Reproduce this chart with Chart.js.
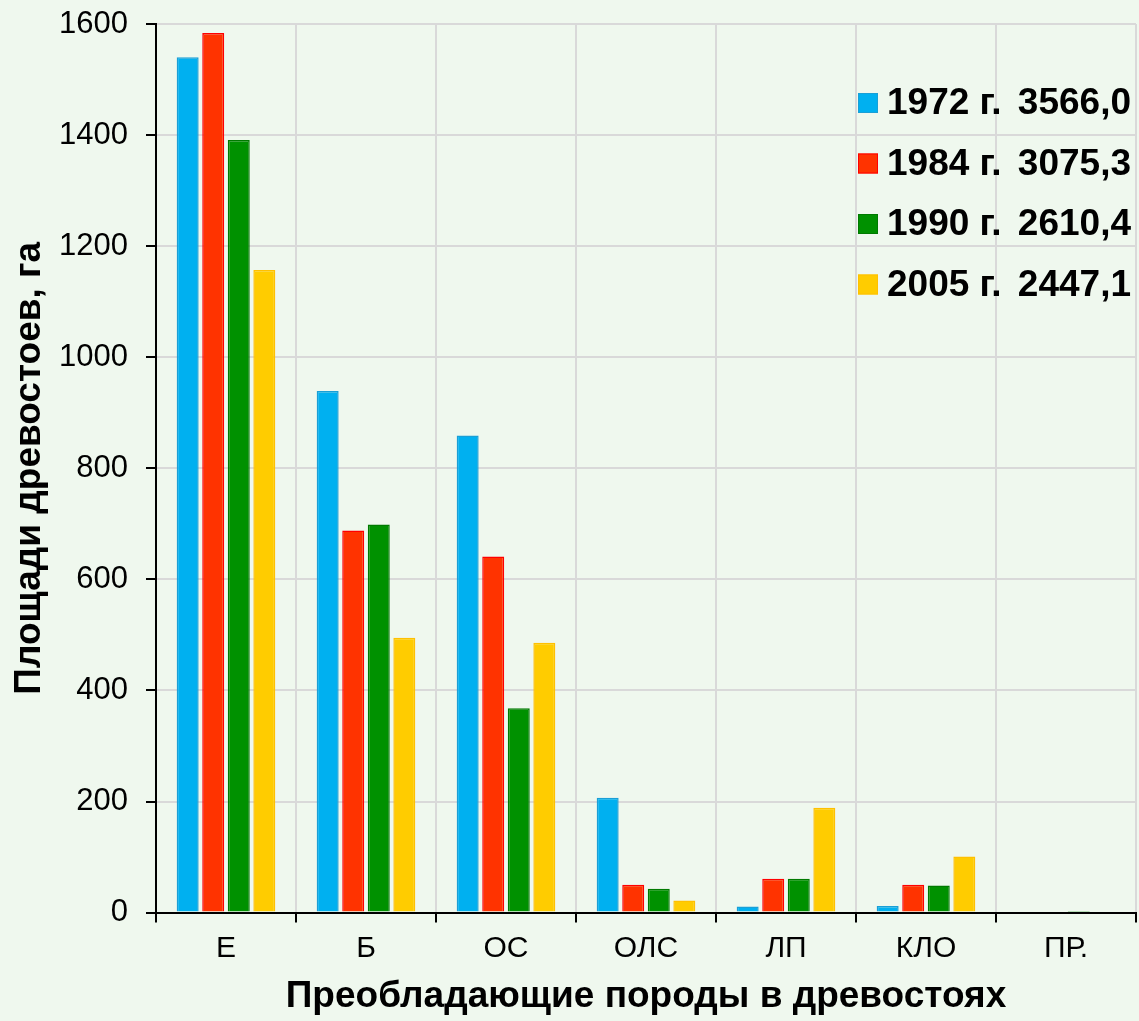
<!DOCTYPE html>
<html>
<head>
<meta charset="utf-8">
<script src="https://cdn.jsdelivr.net/npm/chart.js@4.4.1/dist/chart.umd.min.js"></script>
<style>
  html, body { margin: 0; padding: 0; background: #eff8ee; }
  #wrap { width: 1139px; height: 1021px; }
</style>
</head>
<body>
<div id="wrap"><canvas id="myChart"></canvas></div>
<script>
// categories (dominant species) and areas, ha
var species = ["Е", "Б", "ОС", "ОЛС", "ЛП", "КЛО", "ПР."];
var years = ["1972 г.", "1984 г.", "1990 г.", "2005 г."];
var totals = ["3566,0", "3075,3", "2610,4", "2447,1"];

var area1972 = [1540, 939, 859, 207, 11, 12, 0];
var area1984 = [1584, 688, 641, 50, 61, 50, 0];
var area1990 = [1391, 699, 368, 43, 61, 49, 1];
var area2005 = [1157, 495, 486, 22, 189, 101, 0];

var fills = ["#00b0f0", "#ff3300", "#009100", "#ffcc00"];
var borders = ["#1a9fd6", "#ff0000", "#007a00", "#ffc000"];

var FONT = "'Liberation Sans', Arial, sans-serif";

// legend drawn inside the plot, top right
var insideLegend = {
  id: "insideLegend",
  afterDraw: function(chart) {
    var ctx = chart.ctx;
    ctx.save();
    ctx.font = "bold 37px " + FONT;
    ctx.textBaseline = "middle";
    chart.data.datasets.forEach(function(ds, i) {
      var y = 103 + i * 60.5;
      ctx.fillStyle = ds.backgroundColor;
      ctx.strokeStyle = ds.borderColor;
      ctx.lineWidth = 1;
      ctx.fillRect(858, y - 10, 20, 20);
      ctx.strokeRect(858.5, y - 9.5, 19, 19);
      ctx.fillStyle = "#000";
      ctx.textAlign = "left";
      ctx.fillText(years[i], 887, y + 1);
      ctx.textAlign = "right";
      ctx.fillText(totals[i], 1131, y + 1);
    });
    ctx.restore();
  }
};

var sets = [area1972, area1984, area1990, area2005].map(function(d, i) {
  return {
    label: years[i],
    data: d,
    backgroundColor: fills[i],
    borderColor: borders[i],
    borderWidth: 1.5,
    categoryPercentage: 0.73,
    barPercentage: 0.86
  };
});

var ctx = document.getElementById("myChart").getContext("2d");
var chart = new Chart(ctx, {
  type: "bar",
  data: { labels: species, datasets: sets },
  options: {
    responsive: true,
    maintainAspectRatio: false,
    animation: false,
    layout: { padding: { top: 24, right: 3, left: 0, bottom: 2 } },
    plugins: {
      legend: { display: false },
      tooltip: { enabled: false }
    },
    scales: {
      x: {
        grid: { color: "#d9d9d9", lineWidth: 2, tickColor: "#000", tickLength: 10, offset: true },
        border: { color: "#000", width: 2 },
        ticks: { color: "#000", font: { family: FONT, size: 30 }, padding: 8 },
        title: {
          display: true,
          text: "Преобладающие породы в древостоях",
          color: "#000",
          font: { family: FONT, size: 37, weight: "bold" },
          padding: { top: 0, bottom: 0 }
        }
      },
      y: {
        min: 0,
        max: 1600,
        afterFit: function(scale) {
          scale.width = 156;
          scale.paddingTop = 0;
          scale.paddingBottom = 0;
        },
        grid: { color: "#d9d9d9", lineWidth: 2, tickColor: "#000", tickLength: 10 },
        border: { color: "#000", width: 2 },
        ticks: {
          stepSize: 200,
          color: "#000",
          font: { family: FONT, size: 31 },
          padding: 18,
          callback: function(v) { return String(v); }
        },
        title: {
          display: true,
          text: "Площади древостоев, га",
          color: "#000",
          font: { family: FONT, size: 37, weight: "bold" },
          padding: { top: 8, bottom: 0 }
        }
      }
    }
  },
  plugins: [insideLegend]
});
</script>
</body>
</html>
